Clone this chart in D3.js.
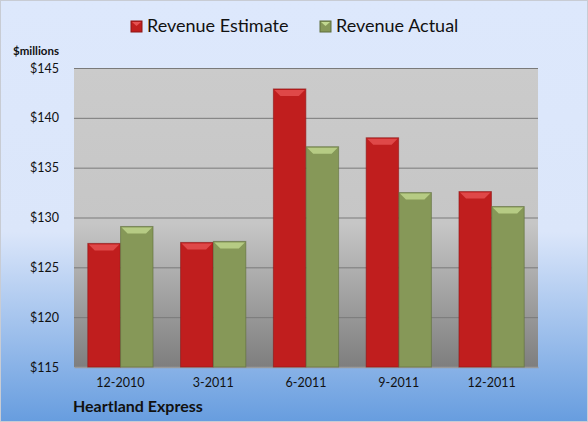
<!DOCTYPE html>
<html lang="en">
<head>
<meta charset="UTF-8">
<title>Heartland Express revenue</title>
<script src="https://cdn.jsdelivr.net/npm/d3@7"></script>
<style>
  body { margin: 0; }
  text { font-family: Lato, "Open Sans", sans-serif; }
</style>
</head>
<body>
<svg width="588" height="422"></svg>
<script>
// data
var quarters = ["12-2010", "3-2011", "6-2011", "9-2011", "12-2011"];
var seriesNames = ["Revenue Estimate", "Revenue Actual"];
var estimate = [127.4, 127.5, 142.9, 138.0, 132.6];
var actual = [129.1, 127.6, 137.1, 132.5, 131.1];
var yTicks = [115, 120, 125, 130, 135, 140, 145];

var width = 588, height = 422;
var margin = {left: 74, right: 50, top: 68, bottom: 55};
var svg = d3.select("svg");
var defs = svg.append("defs");

// background gradient
var bg = defs.append("linearGradient").attr("id", "bg").attr("x1", 0).attr("y1", 0).attr("x2", 0).attr("y2", 1);
bg.append("stop").attr("offset", "0%").attr("stop-color", "#dde8fc");
bg.append("stop").attr("offset", "55%").attr("stop-color", "#dbe6fa");
bg.append("stop").attr("offset", "100%").attr("stop-color", "#679ddf");

// plot area gradient
var pg = defs.append("linearGradient").attr("id", "plotbg").attr("x1", 0).attr("y1", 0).attr("x2", 0).attr("y2", 1);
pg.append("stop").attr("offset", "0%").attr("stop-color", "#cbcbcb");
pg.append("stop").attr("offset", "52%").attr("stop-color", "#c6c6c6");
pg.append("stop").attr("offset", "100%").attr("stop-color", "#7e7e7e");

svg.append("rect")
  .attr("x", 0.5).attr("y", 0.5)
  .attr("width", width - 1).attr("height", height - 1)
  .attr("fill", "url(#bg)")
  .attr("stroke", "#c8ccd4");

var x0 = d3.scaleBand().domain(quarters)
  .range([margin.left, width - margin.right]).paddingInner(0.29).paddingOuter(0.145);
var x1 = d3.scaleBand().domain(seriesNames).range([0, x0.bandwidth()]).padding(0.01);
var y = d3.scaleLinear().domain([115, 145]).range([height - margin.bottom, margin.top]);

// plot area
svg.append("rect")
  .attr("x", margin.left).attr("y", margin.top)
  .attr("width", width - margin.left - margin.right)
  .attr("height", height - margin.top - margin.bottom)
  .attr("fill", "url(#plotbg)");

// gridlines
svg.append("g").selectAll("line")
  .data(yTicks.slice(1))
  .enter().append("line")
  .attr("x1", margin.left).attr("x2", width - margin.right)
  .attr("y1", function(d){ return y(d) + 0.5; })
  .attr("y2", function(d){ return y(d) + 0.5; })
  .attr("stroke", "#7a7a7a").attr("stroke-width", 1);

// y axis
var yAxis = svg.append("g")
  .attr("transform", "translate(" + (margin.left - 12) + ",0)")
  .call(d3.axisLeft(y).tickValues(yTicks).tickSize(0).tickFormat(function(d){ return "$" + d; }));
yAxis.select(".domain").remove();
yAxis.selectAll("text").attr("font-size", 12.5).attr("fill", "#111").attr("font-family", "Lato, sans-serif");

// x axis
var xAxis = svg.append("g")
  .attr("transform", "translate(0," + (height - margin.bottom) + ")")
  .call(d3.axisBottom(x0).tickSize(0).tickPadding(11));
xAxis.select(".domain").attr("stroke", "#9a9a9a").attr("stroke-width", 1.5);
xAxis.selectAll("text").attr("font-size", 12.5).attr("fill", "#111").attr("font-family", "Lato, sans-serif");

svg.append("text").attr("x", 13).attr("y", 55)
  .attr("font-size", 11.5).attr("font-weight", "bold").attr("fill", "#111")
  .text("$millions");

svg.append("text").attr("x", 73).attr("y", 412)
  .attr("font-size", 16).attr("font-weight", "bold").attr("fill", "#111")
  .text("Heartland Express");

// bars
var colors = {
  "Revenue Estimate": {base: "#c01e1e", light: "#e65252", dark: "#8e1616"},
  "Revenue Actual": {base: "#869858", light: "#c2d890", dark: "#5f6e3c"}
};

var rows = quarters.map(function(q, i){
  return {q: q, values: [{s: seriesNames[0], v: estimate[i]}, {s: seriesNames[1], v: actual[i]}]};
});

var groups = svg.append("g").selectAll("g")
  .data(rows).enter().append("g")
  .attr("transform", function(d){ return "translate(" + x0(d.q) + ",0)"; });

var bars = groups.selectAll("g")
  .data(function(d){ return d.values; })
  .enter().append("g");

bars.append("rect")
  .attr("x", function(d){ return x1(d.s); })
  .attr("y", function(d){ return y(d.v); })
  .attr("width", x1.bandwidth())
  .attr("height", function(d){ return y(115) - y(d.v); })
  .attr("fill", function(d){ return colors[d.s].base; })
  .attr("stroke", function(d){ return colors[d.s].dark; })
  .attr("stroke-opacity", 0.6);

// bevel on the top of each bar
bars.append("path")
  .attr("d", function(d){
    var l = x1(d.s) + 1, r = l + x1.bandwidth() - 2, t = y(d.v) + 1, b = t + 6;
    return "M" + l + "," + t + "L" + r + "," + t + "L" + (r - 6) + "," + b + "L" + (l + 6) + "," + b + "Z";
  })
  .attr("fill", function(d){ return colors[d.s].light; })
  .attr("opacity", 0.8);

// legend
var legend = svg.append("g").selectAll("g")
  .data(seriesNames).enter().append("g")
  .attr("transform", function(d, i){ return "translate(" + (i === 0 ? 131 : 320) + ",21)"; });
legend.append("rect")
  .attr("width", 11).attr("height", 11)
  .attr("fill", function(d){ return colors[d].base; })
  .attr("stroke", function(d){ return colors[d].dark; });
legend.append("path")
  .attr("d", "M1,1L10,1L5.5,5Z")
  .attr("fill", function(d){ return colors[d].light; });
legend.append("text")
  .attr("x", 16).attr("y", 11)
  .attr("font-size", 18).attr("fill", "#111")
  .text(function(d){ return d; });
</script>
</body>
</html>
